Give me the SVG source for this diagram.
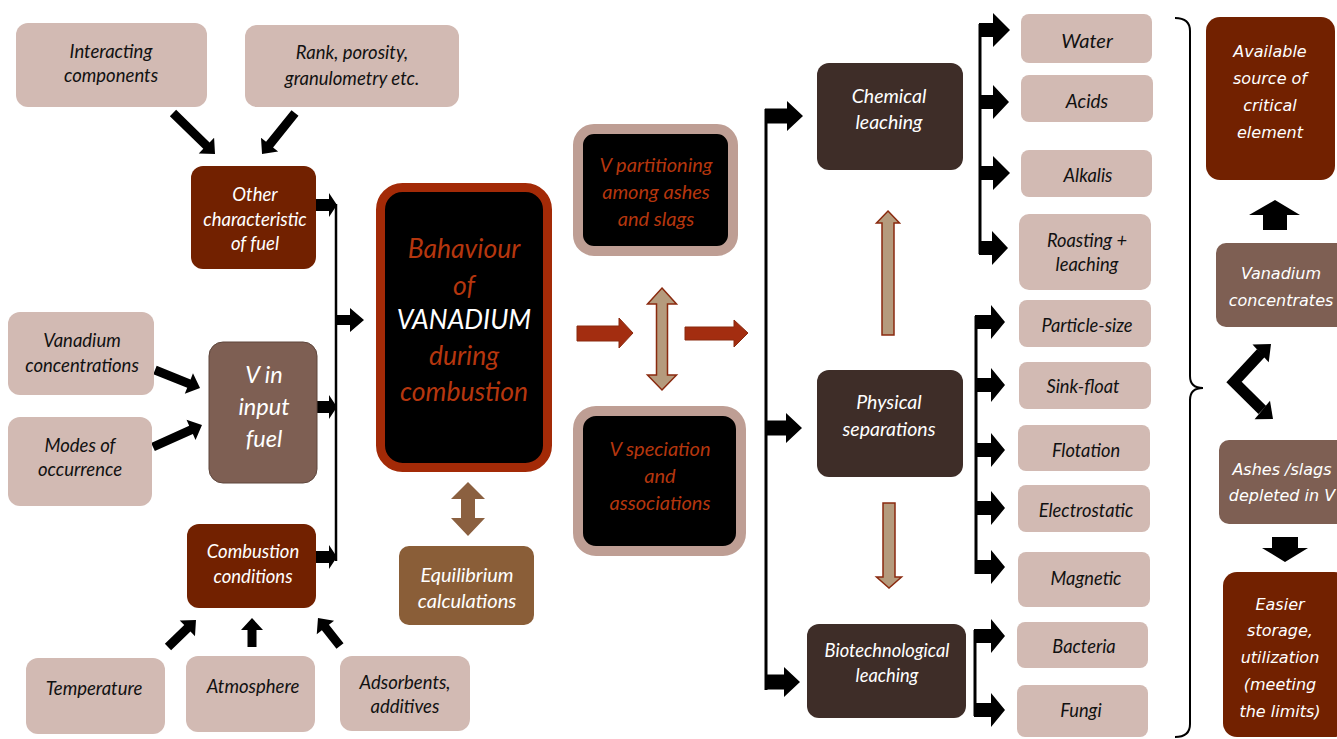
<svg xmlns="http://www.w3.org/2000/svg" width="1337" height="739" viewBox="0 0 1337 739">
<style>
.lp{fill:#D2BAB3}
.dr{fill:#722100}
.br{fill:#7E5F53}
.dk{fill:#3E2D28}
.eq{fill:#8A5E38}
.t{font-family:Lato,"Liberation Sans",sans-serif;font-style:italic;text-anchor:middle;font-size:18.5px}
.v{font-family:"DejaVu Sans",Verdana,sans-serif;font-style:italic;text-anchor:middle;font-size:16px}
.s{font-size:18.3px}
.k{fill:#111}
.w{fill:#fff}
.r{fill:#B5360E}
.blk{fill:#000}
.red{fill:#A32D10;stroke:#8A2A0F;stroke-width:1}
.tan{fill:#B59B7D;stroke:#8A2A0F;stroke-width:1.5}
</style>
<rect width="1337" height="739" fill="#fff"/>

<!-- connectors -->
<g id="connectors">
  <polygon class="blk" transform="translate(173 113) rotate(44.3)" points="0,-4.5 46.7,-4.5 46.7,-11 58.7,0 46.7,11 46.7,4.5 0,4.5"/>
  <polygon class="blk" transform="translate(295 113) rotate(128.8)" points="0,-4.5 40.6,-4.5 40.6,-11 52.6,0 40.6,11 40.6,4.5 0,4.5"/>
  <polygon class="blk" transform="translate(155 370) rotate(21.8)" points="0,-4.5 36.5,-4.5 36.5,-11 48.5,0 36.5,11 36.5,4.5 0,4.5"/>
  <polygon class="blk" transform="translate(153 447) rotate(-24.2)" points="0,-4.5 41.7,-4.5 41.7,-11 53.7,0 41.7,11 41.7,4.5 0,4.5"/>
  <polygon class="blk" transform="translate(168 647) rotate(-44)" points="0,-4.5 26.9,-4.5 26.9,-11 38.9,0 26.9,11 26.9,4.5 0,4.5"/>
  <polygon class="blk" transform="translate(252 647) rotate(-90)" points="0,-4.5 17,-4.5 17,-11 29,0 17,11 17,4.5 0,4.5"/>
  <polygon class="blk" transform="translate(340 646) rotate(-128.2)" points="0,-4.5 23.6,-4.5 23.6,-11 35.6,0 23.6,11 23.6,4.5 0,4.5"/>

  <line x1="336" y1="204" x2="336" y2="561" stroke="#000" stroke-width="2.5"/>
  <polygon class="blk" points="316,199 329,199 329,193 337,205 329,217 329,211 316,211"/>
  <polygon class="blk" points="316,401 329,401 329,395 337,407 329,419 329,413 316,413"/>
  <polygon class="blk" points="316,551 329,551 329,545 337,557 329,569 329,563 316,563"/>
  <polygon class="blk" points="335,315 350,315 350,308 364,320 350,332 350,325 335,325"/>

  <polygon fill="#8B6040" points="468,482 485,499 475,499 475,518 485,518 468,536 451,518 461,518 461,499 451,499"/>

  <polygon class="red" points="577,326 619,326 619,318 633,333 619,348 619,341 577,341"/>
  <polygon class="red" points="685,327 734,327 734,320 748,333 734,347 734,340 685,340"/>
  <polygon class="tan" points="662,288 676.5,304 667.5,304 667.5,375 676.5,375 662,390 647.5,375 656.5,375 656.5,304 647.5,304"/>

  <line x1="766" y1="109" x2="766" y2="690" stroke="#000" stroke-width="3"/>
  <polygon class="blk" points="765,108.5 787,108.5 787,101 803,116 787,131 787,123.5 765,123.5"/>
  <polygon class="blk" points="765,420.5 786,420.5 786,413 802,428 786,443 786,435.5 765,435.5"/>
  <polygon class="blk" points="765,674.5 784,674.5 784,667 800,682 784,697 784,689.5 765,689.5"/>

  <polygon class="tan" points="888,211 899.5,223 894,223 894,335 882,335 882,223 876.5,223"/>
  <polygon class="tan" points="883,503 895,503 895,577 901.5,577 889,588 876.5,577 883,577"/>

  <line x1="980" y1="24" x2="980" y2="254" stroke="#000" stroke-width="3"/>
  <polygon class="blk" points="979,23 993,23 993,13 1010,30 993,47 993,37 979,37"/>
  <polygon class="blk" points="979,95 993,95 993,85 1009,102 993,119 993,109 979,109"/>
  <polygon class="blk" points="979,166 993,166 993,156 1010,173 993,190 993,180 979,180"/>
  <polygon class="blk" points="979,241 992,241 992,231 1008,248 992,265 992,255 979,255"/>

  <line x1="976" y1="316" x2="976" y2="574" stroke="#000" stroke-width="3"/>
  <polygon class="blk" points="975,315 991,315 991,305 1005,322 991,339 991,329 975,329"/>
  <polygon class="blk" points="975,378 991,378 991,368 1005,385 991,402 991,392 975,392"/>
  <polygon class="blk" points="975,443 991,443 991,433 1005,450 991,467 991,457 975,457"/>
  <polygon class="blk" points="975,501 991,501 991,491 1005,508 991,525 991,515 975,515"/>
  <polygon class="blk" points="975,560 991,560 991,550 1005,567 991,584 991,574 975,574"/>

  <line x1="975" y1="630" x2="975" y2="716" stroke="#000" stroke-width="3"/>
  <polygon class="blk" points="974,629 991,629 991,619 1005,636 991,653 991,643 974,643"/>
  <polygon class="blk" points="974,703 991,703 991,693 1005,710 991,727 991,717 974,717"/>

  <path d="M1175,18 Q1190,18 1190,31 L1190,376 Q1190,388 1203,388 Q1190,388 1190,400 L1190,724 Q1190,737 1175,737" fill="none" stroke="#000" stroke-width="2"/>

  <polygon class="blk" points="1275,200 1300,215 1287,215 1287,230 1263,230 1263,215 1249,215"/>
  <polygon class="blk" points="1272,537 1298,537 1298,548 1308,548 1285,562 1262,548 1272,548"/>
  <path d="M1261,353 L1234,382 L1262.3,410" fill="none" stroke="#000" stroke-width="11" stroke-linejoin="miter"/>
  <polygon class="blk" points="1271,344 1268.7,362.3 1252.5,344.5"/>
  <polygon class="blk" points="1273,419 1254.6,419.2 1270,400.8"/>
</g>

<g id="interacting">
  <rect class="lp" x="16" y="23" width="191" height="84" rx="12"/>
  <text class="t k" x="111" y="58">Interacting</text>
  <text class="t k" x="111" y="82">components</text>
</g>
<g id="rank">
  <rect class="lp" x="245" y="25" width="214" height="82" rx="12"/>
  <text class="t k" x="352" y="59">Rank, porosity,</text>
  <text class="t k" x="352" y="85">granulometry etc.</text>
</g>
<g id="other">
  <rect class="dr" x="191" y="166" width="125" height="103" rx="12"/>
  <text class="t w" x="255" y="201">Other</text>
  <text class="t w" x="255" y="226">characteristic</text>
  <text class="t w" x="255" y="250">of fuel</text>
</g>
<g id="vconc">
  <rect class="lp" x="8" y="312" width="146" height="83" rx="12"/>
  <text class="t k" x="82" y="347">Vanadium</text>
  <text class="t k" x="82" y="372">concentrations</text>
</g>
<g id="modes">
  <rect class="lp" x="8" y="417" width="144" height="89" rx="12"/>
  <text class="t k" x="80" y="452">Modes of</text>
  <text class="t k" x="80" y="476">occurrence</text>
</g>
<g id="vinput">
  <rect class="br" x="209" y="342" width="108" height="141" rx="14" stroke="#5E463C" stroke-width="1"/>
  <text class="t w" x="264" y="383" style="font-size:23.5px">V in</text>
  <text class="t w" x="264" y="415" style="font-size:23.5px">input</text>
  <text class="t w" x="264" y="447" style="font-size:23.5px">fuel</text>
</g>
<g id="combustion">
  <rect class="dr" x="187" y="524" width="129" height="84" rx="12"/>
  <text class="t w" x="253" y="558">Combustion</text>
  <text class="t w" x="253" y="583">conditions</text>
</g>
<g id="temperature">
  <rect class="lp" x="26" y="658" width="139" height="76" rx="12"/>
  <text class="t k" x="94" y="695">Temperature</text>
</g>
<g id="atmosphere">
  <rect class="lp" x="186" y="656" width="129" height="76" rx="12"/>
  <text class="t k" x="253" y="693">Atmosphere</text>
</g>
<g id="adsorbents">
  <rect class="lp" x="340" y="656" width="130" height="75" rx="12"/>
  <text class="t k" x="405" y="689">Adsorbents,</text>
  <text class="t k" x="405" y="713">additives</text>
</g>

<g id="behaviour">
  <rect x="380.5" y="187.5" width="167" height="280" rx="22" fill="#000" stroke="#A32A07" stroke-width="9"/>
  <text class="t r" x="464" y="258" style="font-size:26.5px">Bahaviour</text>
  <text class="t r" x="464" y="295" style="font-size:26.5px">of</text>
  <text class="t w" x="464" y="329" style="font-size:26.5px">VANADIUM</text>
  <text class="t r" x="464" y="365" style="font-size:26.5px">during</text>
  <text class="t r" x="464" y="401" style="font-size:26.5px">combustion</text>
</g>
<g id="equilibrium">
  <rect class="eq" x="399" y="546" width="135" height="79" rx="10"/>
  <text class="t w" x="467" y="582" style="font-size:20px">Equilibrium</text>
  <text class="t w" x="467" y="608" style="font-size:20px">calculations</text>
</g>
<g id="partitioning">
  <rect x="578" y="129" width="155" height="122" rx="16" fill="#000" stroke="#BE9E94" stroke-width="10"/>
  <text class="t r" x="656" y="172" style="font-size:20px">V partitioning</text>
  <text class="t r" x="656" y="199" style="font-size:20px">among ashes</text>
  <text class="t r" x="656" y="226" style="font-size:20px">and slags</text>
</g>
<g id="speciation">
  <rect x="578" y="411" width="163" height="140" rx="18" fill="#000" stroke="#BE9E94" stroke-width="10"/>
  <text class="t r" x="660" y="456" style="font-size:20px">V speciation</text>
  <text class="t r" x="660" y="483" style="font-size:20px">and</text>
  <text class="t r" x="660" y="510" style="font-size:20px">associations</text>
</g>

<g id="chemical">
  <rect class="dk" x="817" y="63" width="146" height="107" rx="12"/>
  <text class="t w" x="889" y="103" style="font-size:19.5px">Chemical</text>
  <text class="t w" x="889" y="129" style="font-size:19.5px">leaching</text>
</g>
<g id="physical">
  <rect class="dk" x="817" y="370" width="146" height="107" rx="12"/>
  <text class="t w" x="889" y="409" style="font-size:19.5px">Physical</text>
  <text class="t w" x="889" y="436" style="font-size:19.5px">separations</text>
</g>
<g id="bio">
  <rect class="dk" x="807" y="624" width="159" height="94" rx="12"/>
  <text class="t w s" x="887" y="657">Biotechnological</text>
  <text class="t w s" x="887" y="682">leaching</text>
</g>

<g id="water"><rect class="lp" x="1021" y="14" width="131" height="49" rx="8"/><text class="t k" x="1087" y="48" style="font-size:20px">Water</text></g>
<g id="acids"><rect class="lp" x="1021" y="75" width="132" height="47" rx="8"/><text class="t k" x="1087" y="108" style="font-size:19px">Acids</text></g>
<g id="alkalis"><rect class="lp" x="1021" y="150" width="131" height="47" rx="8"/><text class="t k s" x="1088" y="182">Alkalis</text></g>
<g id="roasting"><rect class="lp" x="1019" y="214" width="132" height="76" rx="10"/><text class="t k s" x="1087" y="247">Roasting +</text><text class="t k s" x="1087" y="271">leaching</text></g>
<g id="particle"><rect class="lp" x="1019" y="300" width="132" height="47" rx="8"/><text class="t k s" x="1087" y="332">Particle-size</text></g>
<g id="sink"><rect class="lp" x="1019" y="362" width="132" height="47" rx="8"/><text class="t k s" x="1083" y="393">Sink-float</text></g>
<g id="flotation"><rect class="lp" x="1018" y="425" width="132" height="46" rx="8"/><text class="t k s" x="1086" y="457">Flotation</text></g>
<g id="electrostatic"><rect class="lp" x="1018" y="485" width="132" height="47" rx="8"/><text class="t k s" x="1086" y="517">Electrostatic</text></g>
<g id="magnetic"><rect class="lp" x="1018" y="552" width="132" height="55" rx="8"/><text class="t k s" x="1086" y="585">Magnetic</text></g>
<g id="bacteria"><rect class="lp" x="1017" y="622" width="131" height="46" rx="8"/><text class="t k s" x="1084" y="653">Bacteria</text></g>
<g id="fungi"><rect class="lp" x="1017" y="685" width="131" height="52" rx="8"/><text class="t k s" x="1081" y="717">Fungi</text></g>

<g id="available">
  <rect class="dr" x="1206" y="17" width="129" height="163" rx="14"/>
  <text class="v w" x="1270" y="57">Available</text>
  <text class="v w" x="1270" y="84">source of</text>
  <text class="v w" x="1270" y="111">critical</text>
  <text class="v w" x="1270" y="138">element</text>
</g>
<g id="vconcentrates">
  <rect class="br" x="1216" y="243" width="135" height="84" rx="10"/>
  <text class="v w" x="1281" y="279">Vanadium</text>
  <text class="v w" x="1281" y="306">concentrates</text>
</g>
<g id="ashes">
  <rect class="br" x="1219" y="440" width="130" height="84" rx="10"/>
  <text class="v w" x="1282" y="475">Ashes /slags</text>
  <text class="v w" x="1282" y="501">depleted in V</text>
</g>
<g id="easier">
  <rect class="dr" x="1223" y="572" width="125" height="165" rx="14"/>
  <text class="v w" x="1280" y="610">Easier</text>
  <text class="v w" x="1280" y="636">storage,</text>
  <text class="v w" x="1280" y="663">utilization</text>
  <text class="v w" x="1280" y="690">(meeting</text>
  <text class="v w" x="1280" y="717">the limits)</text>
</g>
</svg>
